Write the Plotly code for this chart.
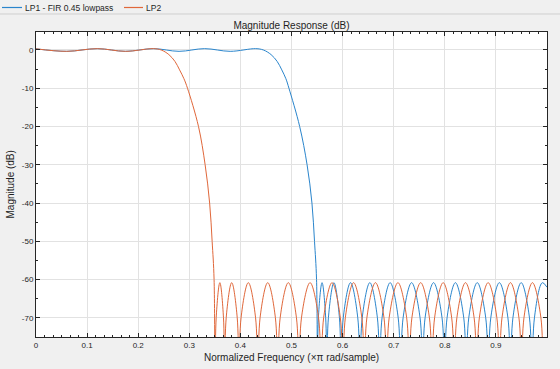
import plotly.graph_objects as go

# ---------------- data ----------------
# Normalized frequency (x pi rad/sample) and magnitude (dB)

# LP1 - FIR 0.45 lowpass (blue)
lp1_pass_f = [0.0, 0.06, 0.12, 0.175, 0.23, 0.28, 0.33, 0.38, 0.43]
lp1_pass_db = [0.3, -0.35, 0.35, -0.35, 0.35, -0.35, 0.35, -0.35, 0.35]
lp1_trans_f = [0.445, 0.46, 0.472, 0.481, 0.489, 0.495, 0.516, 0.5305, 0.540, 0.545, 0.549, 0.551]
lp1_trans_db = [0.0, -1.2, -3.0, -5.2, -7.5, -10.0, -20.0, -30.0, -40.0, -50.0, -60.0, -95.0]
lp1_stop_f = [
    0.5526, 0.5598, 0.5669, 0.569,
    0.5722, 0.583, 0.5938, 0.597,
    0.6013, 0.6155, 0.6297, 0.634,
    0.6384, 0.6533, 0.6681, 0.6725,
    0.6772, 0.693, 0.7088, 0.7135,
    0.7184, 0.735, 0.7516, 0.7565,
    0.7614, 0.778, 0.7946, 0.7995,
    0.8044, 0.8208, 0.8371, 0.842,
    0.8469, 0.8635, 0.8801, 0.885,
    0.89, 0.9068, 0.9235, 0.9285,
    0.9333, 0.9495, 0.9657, 0.9705,
    0.9754, 0.991, 1.0,
]
lp1_stop_db = [
    -70, -60.8, -70, -95,
    -70, -60.8, -70, -95,
    -70, -60.8, -70, -95,
    -70, -60.8, -70, -95,
    -70, -60.8, -70, -95,
    -70, -60.8, -70, -95,
    -70, -60.8, -70, -95,
    -70, -60.8, -70, -95,
    -70, -60.8, -70, -95,
    -70, -60.8, -70, -95,
    -70, -60.8, -70, -95,
    -70, -60.8, -62,
]

# LP2 (orange)
lp2_pass_f = [0.0, 0.06, 0.12, 0.175, 0.23]
lp2_pass_db = [0.3, -0.35, 0.35, -0.35, 0.35]
lp2_trans_f = [0.245, 0.26, 0.272, 0.281, 0.2895, 0.2965, 0.318, 0.331, 0.3398, 0.3447, 0.3485, 0.3505]
lp2_trans_db = [0.0, -1.2, -3.0, -5.2, -7.5, -10.0, -20.0, -30.0, -40.0, -50.0, -60.0, -95.0]
lp2_stop_f = [
    0.3526, 0.3598, 0.3669, 0.369,
    0.3722, 0.383, 0.3938, 0.397,
    0.4013, 0.4155, 0.4297, 0.434,
    0.4385, 0.4535, 0.4685, 0.473,
    0.4778, 0.4938, 0.5097, 0.5145,
    0.5195, 0.5363, 0.553, 0.558,
    0.5629, 0.5793, 0.5956, 0.6005,
    0.6053, 0.6215, 0.6377, 0.6425,
    0.6475, 0.6643, 0.681, 0.686,
    0.6911, 0.7083, 0.7254, 0.7305,
    0.7356, 0.7528, 0.7699, 0.775,
    0.78, 0.7968, 0.8135, 0.8185,
    0.8236, 0.8405, 0.8574, 0.8625,
    0.8676, 0.8848, 0.9019, 0.907,
    0.9119, 0.9285, 0.9451, 0.950,
    0.9549, 0.9715, 0.9881, 0.993,
    1.0,
]
lp2_stop_db = [
    -70, -60.8, -70, -95,
    -70, -60.8, -70, -95,
    -70, -60.8, -70, -95,
    -70, -60.8, -70, -95,
    -70, -60.8, -70, -95,
    -70, -60.8, -70, -95,
    -70, -60.8, -70, -95,
    -70, -60.8, -70, -95,
    -70, -60.8, -70, -95,
    -70, -60.8, -70, -95,
    -70, -60.8, -70, -95,
    -70, -60.8, -70, -95,
    -70, -60.8, -70, -95,
    -70, -60.8, -70, -95,
    -70, -60.8, -70, -95,
    -70, -60.8, -70, -95,
    -80,
]

series_names = ["LP1 - FIR 0.45 lowpass", "LP2"]
series_colors = ["#2a85cc", "#e0673a"]

x_tickvals = [0, 0.1, 0.2, 0.3, 0.4, 0.5, 0.6, 0.7, 0.8, 0.9]
x_ticktext = ["0", "0.1", "0.2", "0.3", "0.4", "0.5", "0.6", "0.7", "0.8", "0.9"]
y_tickvals = [-70, -60, -50, -40, -30, -20, -10, 0]
y_ticktext = ["-70", "-60", "-50", "-40", "-30", "-20", "-10", "0"]

# ---------------- figure ----------------
FONT = "Liberation Sans, Arial, Helvetica, sans-serif"
AX = "#262626"
TXT = "#1f1f1f"
BG = "#f0f0f0"

fig = go.Figure()
fig.add_trace(go.Scatter(
    x=lp1_pass_f + lp1_trans_f + lp1_stop_f,
    y=lp1_pass_db + lp1_trans_db + lp1_stop_db,
    mode="lines", name=series_names[0], showlegend=False,
    line=dict(color=series_colors[0], width=1, shape="spline", smoothing=1),
))
fig.add_trace(go.Scatter(
    x=lp2_pass_f + lp2_trans_f + lp2_stop_f,
    y=lp2_pass_db + lp2_trans_db + lp2_stop_db,
    mode="lines", name=series_names[1], showlegend=False,
    line=dict(color=series_colors[1], width=1, shape="spline", smoothing=1),
))

L, R, T, B = 36, 13, 32, 32
W, H = 560, 369
pw, ph = W - L - R, H - T - B


def px(x):
    return (x - L) / pw


def py(y):
    return (H - B - y) / ph


fig.update_layout(
    width=W, height=H,
    margin=dict(l=L, r=R, t=T, b=B, autoexpand=False),
    paper_bgcolor=BG,
    plot_bgcolor="white",
    font=dict(family=FONT, size=8, color=AX),
    title=dict(text="Magnitude Response (dB)", x=0.5, xref="paper", xanchor="center",
               y=1 - 25 / H, yref="container", yanchor="middle",
               font=dict(size=10, color=TXT)),
)

common = dict(
    ticks="inside", ticklen=4, tickcolor=AX, tickwidth=1,
    showline=True, linecolor=AX, linewidth=1, mirror="ticks",
    showgrid=True, gridcolor="#e2e2e2", gridwidth=1, zeroline=False,
    tickfont=dict(size=8, color=AX), automargin=False,
)
fig.update_xaxes(
    range=[0, 1], tickvals=x_tickvals, ticktext=x_ticktext,
    minor=dict(dtick=1 / 60, tick0=0, ticks="inside", ticklen=2, tickcolor=AX, showgrid=False),
    **common,
)
fig.update_yaxes(
    range=[-75, 4.7], tickvals=y_tickvals, ticktext=y_ticktext,
    minor=dict(dtick=5, tick0=0, ticks="inside", ticklen=2, tickcolor=AX, showgrid=False),
    **common,
)

# axis titles
fig.add_annotation(text="Normalized Frequency (×π rad/sample)", xref="paper", yref="paper",
                   x=0.5, y=py(357), xanchor="center", yanchor="middle",
                   showarrow=False, font=dict(size=10, color=TXT))
fig.add_annotation(text="Magnitude (dB)", xref="paper", yref="paper",
                   x=px(10), y=0.5, xanchor="center", yanchor="middle", textangle=-90,
                   showarrow=False, font=dict(size=10, color=TXT))

# legend strip at the top (drawn manually to match the original layout)
fig.add_shape(type="line", xref="paper", yref="paper",
              x0=px(0), x1=px(W), y0=py(14), y1=py(14),
              line=dict(color="#cfcfcf", width=1))
legend_items = [(2, 22, 23), (124, 143, 144)]
for (x0, x1, xt), name, color in zip(legend_items, series_names, series_colors):
    fig.add_shape(type="line", xref="paper", yref="paper",
                  x0=px(x0), x1=px(x1), y0=py(7.5), y1=py(7.5),
                  line=dict(color=color, width=1.2))
    fig.add_annotation(text=name, xref="paper", yref="paper",
                       x=px(xt), y=py(7.5), xanchor="left", yanchor="middle",
                       showarrow=False, font=dict(size=8.5, color=TXT))

# remove the default page margin so the 560x369 figure fills the window exactly
fig.write_html(
    "out.html",
    config={"displayModeBar": False},
    post_script="document.body.style.margin='0px';document.body.style.background='" + BG + "';",
)
